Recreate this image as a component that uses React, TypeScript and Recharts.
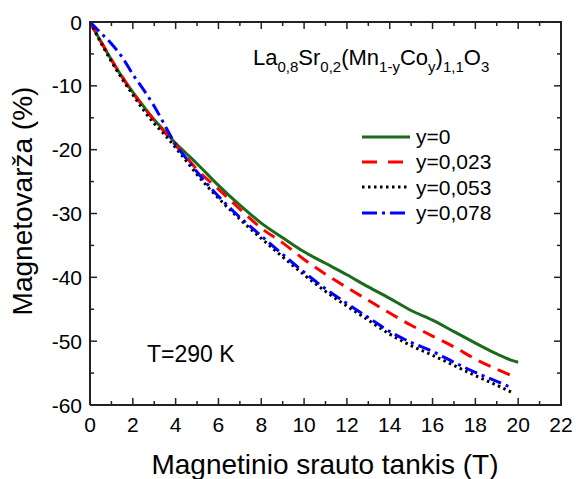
import React from "react";
import { LineChart, Line, XAxis, YAxis, Legend } from "recharts";

// ─── Data ─────────────────────────────────────────────────────────────────────

const fieldT = [0, 0.5, 1, 1.5, 2, 2.5, 3, 3.5, 4, 4.5, 5, 6, 7, 8, 9, 10, 11, 12, 13, 14, 15, 16, 17, 18, 19, 19.7, 20];

const mrY0 = [0, -3.0, -5.9, -8.6, -11.0, -13.2, -15.3, -17.1, -19.0, -20.6, -22.2, -25.6, -28.7, -31.5, -33.8, -36.0, -37.8, -39.6, -41.5, -43.3, -45.2, -46.7, -48.5, -50.3, -52.0, -53.0, -53.3];
const mrY023 = [0, -3.0, -5.9, -8.6, -11.1, -13.3, -15.4, -17.3, -19.3, -21.2, -23.1, -26.2, -29.3, -32.3, -34.6, -37.2, -39.5, -41.6, -43.6, -45.6, -47.5, -49.2, -50.9, -52.8, -54.4, -55.4, null];
const mrY053 = [0, -3.2, -6.2, -8.9, -11.4, -13.8, -15.9, -17.7, -19.7, -21.8, -23.9, -27.6, -30.9, -33.9, -36.8, -39.6, -42.2, -44.5, -46.7, -48.9, -50.7, -52.2, -53.8, -55.4, -56.9, -58.0, null];
const mrY078 = [0, -1.7, -3.4, -5.5, -8.2, -10.6, -13.2, -16.2, -19.2, -21.4, -23.5, -27.3, -30.6, -33.5, -36.4, -39.2, -41.8, -44.1, -46.3, -48.5, -50.2, -51.6, -53.3, -54.9, -56.3, -57.3, null];

const xTicks = Array.from({ length: 23 }, (_, i) => i); // 0..22, odd = minor
const yTicks = [-60, -55, -50, -45, -40, -35, -30, -25, -20, -15, -10, -5, 0];

const series = [
  { key: "y0", name: "y=0", color: "#1b6b1b", dash: undefined as string | undefined, legendDash: undefined as string | undefined },
  { key: "y023", name: "y=0,023", color: "#ff0000", dash: "13 8", legendDash: "15 11" },
  { key: "y053", name: "y=0,053", color: "#000000", dash: "2.5 3.5", legendDash: "2.5 3.5" },
  { key: "y078", name: "y=0,078", color: "#0000ff", dash: "13 5 3 5", legendDash: "15 5 3 5" },
];

const data = fieldT.map((t, i) => ({
  t,
  y0: mrY0[i],
  y023: mrY023[i],
  y053: mrY053[i],
  y078: mrY078[i],
}));

// ─── Styling / layout ─────────────────────────────────────────────────────────

const FONT = "'Liberation Sans', Arial, sans-serif";
const AXIS = "#222222";
const W = 576;
const H = 479;
const MARGIN = { top: 22, right: 15, bottom: 0, left: 0 };
const Y_AXIS_W = 90;
const X_AXIS_H = 74;
const PLOT = {
  left: MARGIN.left + Y_AXIS_W,
  right: W - MARGIN.right,
  top: MARGIN.top,
  bottom: H - MARGIN.bottom - X_AXIS_H,
};

// position of a tick on the mirrored (top / right) frame sides
const frameX = (v: number) => PLOT.left + (v / 22) * (PLOT.right - PLOT.left);
const frameY = (v: number) => PLOT.top + (-v / 60) * (PLOT.bottom - PLOT.top);

// ─── Ticks (inward, with minor ticks) ─────────────────────────────────────────

function BottomTick(props: any) {
  const { x, y, payload } = props;
  const major = payload.value % 2 === 0;
  return (
    <g>
      <line x1={x} y1={y} x2={x} y2={y - (major ? 7 : 4)} stroke={AXIS} strokeWidth={1.5} />
      {major && (
        <text x={x} y={y + 27} textAnchor="middle" fontSize={21} fontFamily={FONT} fill="#000">
          {payload.value}
        </text>
      )}
    </g>
  );
}

function LeftTick(props: any) {
  const { x, y, payload } = props;
  const major = payload.value % 10 === 0;
  return (
    <g>
      <line x1={x} y1={y} x2={x + (major ? 7 : 4)} y2={y} stroke={AXIS} strokeWidth={1.5} />
      {major && (
        <text x={x - 8} y={y + 7.5} textAnchor="end" fontSize={21} fontFamily={FONT} fill="#000">
          {payload.value}
        </text>
      )}
    </g>
  );
}

// ─── Legend ───────────────────────────────────────────────────────────────────

function LegendBox() {
  return (
    <div style={{ fontFamily: FONT, fontSize: 21, color: "#000" }}>
      {series.map((s) => (
        <div key={s.key} style={{ display: "flex", alignItems: "center", height: 25.3 }}>
          <svg width={54} height={10} style={{ display: "block" }}>
            <line x1={0} y1={5} x2={48} y2={5} stroke={s.color} strokeWidth={3} strokeDasharray={s.legendDash} />
          </svg>
          <span style={{ lineHeight: "25px", whiteSpace: "nowrap" }}>{s.name}</span>
        </div>
      ))}
    </div>
  );
}

// ─── Component ────────────────────────────────────────────────────────────────

export default function App() {
  return (
    <div style={{ position: "absolute", left: 0, top: 0, width: W, height: H, background: "#fff" }}>
      <LineChart width={W} height={H} data={data} margin={MARGIN}>
        <XAxis
          dataKey="t"
          type="number"
          domain={[0, 22]}
          allowDataOverflow
          ticks={xTicks}
          interval={0}
          height={X_AXIS_H}
          tickSize={0}
          tickMargin={0}
          tickLine={false}
          axisLine={{ stroke: AXIS, strokeWidth: 2 }}
          tick={<BottomTick />}
        />
        <YAxis
          type="number"
          domain={[-60, 0]}
          allowDataOverflow
          ticks={yTicks}
          interval={0}
          width={Y_AXIS_W}
          tickSize={0}
          tickMargin={0}
          tickLine={false}
          axisLine={{ stroke: AXIS, strokeWidth: 2 }}
          tick={<LeftTick />}
        />
        <Legend
          layout="vertical"
          align="center"
          verticalAlign="middle"
          content={<LegendBox />}
          wrapperStyle={{ position: "absolute", left: 362, top: 124, width: "auto", height: "auto" }}
        />
        {series.map((s) => (
          <Line
            key={s.key}
            type="monotone"
            dataKey={s.key}
            name={s.name}
            stroke={s.color}
            strokeWidth={3}
            strokeDasharray={s.dash}
            dot={false}
            activeDot={false}
            connectNulls={false}
            isAnimationActive={false}
          />
        ))}
      </LineChart>

      {/* top and right frame edges as a plain bordered box */}
      <div
        style={{
          position: "absolute",
          left: PLOT.left - 1,
          top: PLOT.top - 1,
          width: PLOT.right - PLOT.left,
          height: PLOT.bottom - PLOT.top,
          borderTop: `2px solid ${AXIS}`,
          borderRight: `2px solid ${AXIS}`,
          pointerEvents: "none",
        }}
      />

      {/* mirrored ticks, axis titles and annotations */}
      <svg
        width={W}
        height={H}
        style={{ position: "absolute", left: 0, top: 0, pointerEvents: "none" }}
        fontFamily={FONT}
      >
        {xTicks.map((v) => (
          <line
            key={`tx${v}`}
            x1={frameX(v)}
            y1={PLOT.top}
            x2={frameX(v)}
            y2={PLOT.top + (v % 2 === 0 ? 7 : 4)}
            stroke={AXIS}
            strokeWidth={1.5}
          />
        ))}
        {yTicks.map((v) => (
          <line
            key={`ty${v}`}
            x1={PLOT.right}
            y1={frameY(v)}
            x2={PLOT.right - (v % 10 === 0 ? 7 : 4)}
            y2={frameY(v)}
            stroke={AXIS}
            strokeWidth={1.5}
          />
        ))}

        <text x={325} y={474} textAnchor="middle" fontSize={28} fill="#000">
          Magnetinio srauto tankis (T)
        </text>
        <text x={32} y={201} textAnchor="middle" fontSize={28} fill="#000" transform="rotate(-90 32 201)">
          Magnetovarža (%)
        </text>
        <text x={253} y={65} fontSize={22} fill="#000">
          La
          <tspan fontSize={15} dy={7}>0,8</tspan>
          <tspan dy={-7}>Sr</tspan>
          <tspan fontSize={15} dy={7}>0,2</tspan>
          <tspan dy={-7}>(Mn</tspan>
          <tspan fontSize={15} dy={7}>1-y</tspan>
          <tspan dy={-7}>Co</tspan>
          <tspan fontSize={15} dy={7}>y</tspan>
          <tspan dy={-7}>)</tspan>
          <tspan fontSize={15} dy={7}>1,1</tspan>
          <tspan dy={-7}>O</tspan>
          <tspan fontSize={15} dy={7}>3</tspan>
        </text>
        <text x={147} y={362} fontSize={23} fill="#000">
          T=290 K
        </text>
      </svg>
    </div>
  );
}
